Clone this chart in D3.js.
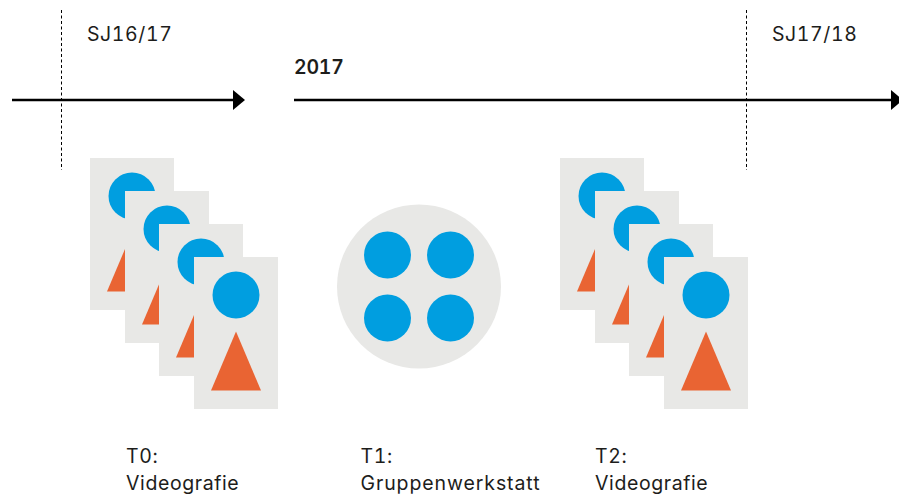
<!DOCTYPE html>
<html lang="de">
<head>
    <meta charset="UTF-8">
    <title>Design T0 T1 T2</title>
    <script src="https://d3js.org/d3.v7.min.js"></script>
    <style>
        body { margin: 0; background: #fff; }
        svg { display: block; }
        text { font-family: "Inter", "Roboto", sans-serif; font-size: 19.5px; fill: #1d1d1b; letter-spacing: 0.6px; font-variant-numeric: tabular-nums; }
    </style>
</head>
<body>
    <svg></svg>

    <script type="text/javascript">
        // Data
        const phases = ['T0', 'T1', 'T2'];
        const phaseNames = ['Videografie', 'Gruppenwerkstatt', 'Videografie'];
        const videoPhases = ['T0', 'T2'];
        const cards = [0, 1, 2, 3];
        const groupCols = [0, 1];
        const groupRows = [0, 1];
        const schoolYears = ['SJ16/17', 'SJ17/18'];
        const yearLabel = '2017';

        const width = 899;
        const height = 495;

        const svg = d3.select('svg')
            .attr('width', width)
            .attr('height', height);

        const blue = '#009ee0';
        const orange = '#e96433';
        const grey = '#e8e8e6';
        const ink = '#000';

        // Scales
        const phaseX = d3.scalePoint().domain(phases).range([126, 595]);
        const yearX = d3.scalePoint().domain(schoolYears).range([61.5, 746.5]);
        const stackX = d3.scalePoint().domain(videoPhases).range([90, 560]);
        const cardX = d3.scaleLinear().domain([0, 3]).range([0, 104]);
        const cardY = d3.scaleLinear().domain([0, 3]).range([158, 257]);
        const colX = d3.scalePoint().domain(groupCols).range([-31.5, 31.5]);
        const rowY = d3.scalePoint().domain(groupRows).range([-31.5, 31.5]);

        const timelineY = 100;

        // School year borders
        svg.selectAll('.year-line')
            .data(schoolYears)
            .join('line')
            .attr('class', 'year-line')
            .attr('x1', d => yearX(d))
            .attr('x2', d => yearX(d))
            .attr('y1', 10)
            .attr('y2', 170)
            .attr('stroke', ink)
            .attr('stroke-width', 1)
            .attr('stroke-dasharray', '3 2.5');

        svg.selectAll('.year-label')
            .data(schoolYears)
            .join('text')
            .attr('class', 'year-label')
            .attr('x', d => yearX(d) + 25.5)
            .attr('y', 41)
            .text(d => d);

        // Timeline, broken in two pieces
        [[12, 234], [294, 892]].forEach(([a, b]) => {
            svg.append('line')
                .attr('x1', a)
                .attr('x2', b)
                .attr('y1', timelineY)
                .attr('y2', timelineY)
                .attr('stroke', ink)
                .attr('stroke-width', 2.4);
            svg.append('path')
                .attr('d', `M${b - 1},${timelineY - 10}L${b + 11},${timelineY}L${b - 1},${timelineY + 10}Z`)
                .attr('fill', ink);
        });

        svg.append('text')
            .attr('x', 294)
            .attr('y', 74)
            .attr('font-weight', 600)
            .style('letter-spacing', '-0.2px')
            .text(yearLabel);

        // Video cards
        videoPhases.forEach(p => {
            const g = svg.append('g').attr('transform', `translate(${stackX(p)},0)`);
            const card = g.selectAll('g')
                .data(cards)
                .join('g')
                .attr('transform', d => `translate(${Math.round(cardX(d))},${cardY(d)})`);
            card.append('rect')
                .attr('width', 84)
                .attr('height', 152)
                .attr('fill', grey);
            card.append('circle')
                .attr('cx', 42)
                .attr('cy', 38)
                .attr('r', 23.5)
                .attr('fill', blue);
            card.append('path')
                .attr('d', 'M42,74.5L67,133.5L17,133.5Z')
                .attr('fill', orange);
        });

        // Group workshop
        const group = svg.append('g')
            .attr('transform', `translate(419,286.5)`);
        group.append('circle')
            .attr('r', 82)
            .attr('fill', grey);
        group.selectAll('circle.member')
            .data(d3.cross(groupCols, groupRows))
            .join('circle')
            .attr('class', 'member')
            .attr('cx', d => colX(d[0]))
            .attr('cy', d => rowY(d[1]))
            .attr('r', 23.5)
            .attr('fill', blue);

        // Phase labels
        const label = svg.selectAll('.phase')
            .data(phases)
            .join('text')
            .attr('class', 'phase')
            .attr('x', d => phaseX(d));
        label.append('tspan')
            .attr('y', 463)
            .text(d => d + ':');
        label.append('tspan')
            .attr('x', d => phaseX(d))
            .attr('y', 490)
            .style('letter-spacing', d => d === 'T1' ? '0.9px' : '0.6px')
            .text((d, i) => phaseNames[i]);
    </script>
</body>
</html>
